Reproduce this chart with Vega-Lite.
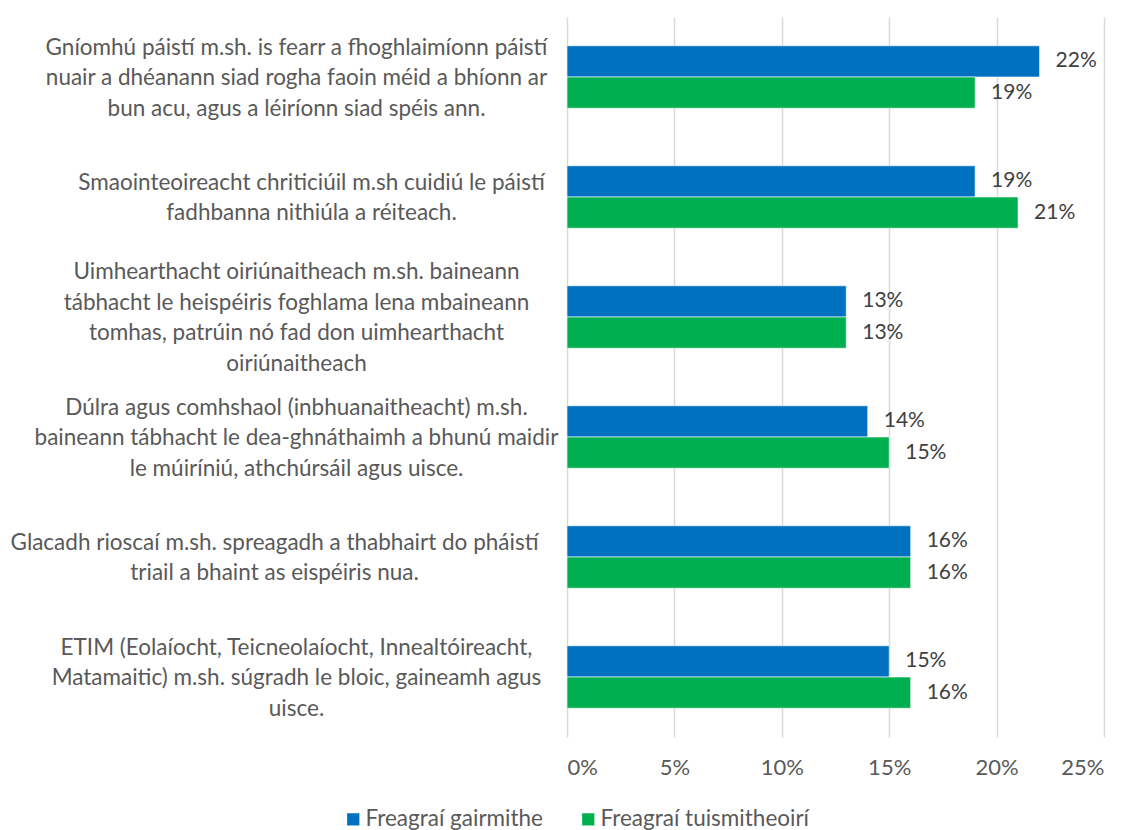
{
  "$schema": "https://vega.github.io/schema/vega-lite/v6.json",
  "width": 537,
  "height": 720,
  "autosize": {"type": "none"},
  "padding": {"left": 567, "top": 17, "right": 24, "bottom": 93},
  "background": "white",
  "data": {
    "values": [
      {"cat": "Gníomhú páistí m.sh. is fearr a fhoghlaimíonn páistí|nuair a dhéanann siad rogha faoin méid a bhíonn ar|bun acu, agus a léiríonn siad spéis ann.", "series": "Freagraí gairmithe", "value": 0.22},
      {"cat": "Gníomhú páistí m.sh. is fearr a fhoghlaimíonn páistí|nuair a dhéanann siad rogha faoin méid a bhíonn ar|bun acu, agus a léiríonn siad spéis ann.", "series": "Freagraí tuismitheoirí", "value": 0.19},
      {"cat": "Smaointeoireacht chriticiúil m.sh cuidiú le páistí|fadhbanna nithiúla a réiteach.", "series": "Freagraí gairmithe", "value": 0.19},
      {"cat": "Smaointeoireacht chriticiúil m.sh cuidiú le páistí|fadhbanna nithiúla a réiteach.", "series": "Freagraí tuismitheoirí", "value": 0.21},
      {"cat": "Uimhearthacht oiriúnaitheach m.sh. baineann|tábhacht le heispéiris foghlama lena mbaineann|tomhas, patrúin nó fad don uimhearthacht|oiriúnaitheach", "series": "Freagraí gairmithe", "value": 0.13},
      {"cat": "Uimhearthacht oiriúnaitheach m.sh. baineann|tábhacht le heispéiris foghlama lena mbaineann|tomhas, patrúin nó fad don uimhearthacht|oiriúnaitheach", "series": "Freagraí tuismitheoirí", "value": 0.13},
      {"cat": "Dúlra agus comhshaol (inbhuanaitheacht) m.sh.|baineann tábhacht le dea-ghnáthaimh a bhunú maidir|le múiríniú, athchúrsáil agus uisce.", "series": "Freagraí gairmithe", "value": 0.14},
      {"cat": "Dúlra agus comhshaol (inbhuanaitheacht) m.sh.|baineann tábhacht le dea-ghnáthaimh a bhunú maidir|le múiríniú, athchúrsáil agus uisce.", "series": "Freagraí tuismitheoirí", "value": 0.15},
      {"cat": "Glacadh rioscaí m.sh. spreagadh a thabhairt do pháistí|triail a bhaint as eispéiris nua.", "series": "Freagraí gairmithe", "value": 0.16},
      {"cat": "Glacadh rioscaí m.sh. spreagadh a thabhairt do pháistí|triail a bhaint as eispéiris nua.", "series": "Freagraí tuismitheoirí", "value": 0.16},
      {"cat": "ETIM (Eolaíocht, Teicneolaíocht, Innealtóireacht,|Matamaitic) m.sh. súgradh le bloic, gaineamh agus|uisce.", "series": "Freagraí gairmithe", "value": 0.15},
      {"cat": "ETIM (Eolaíocht, Teicneolaíocht, Innealtóireacht,|Matamaitic) m.sh. súgradh le bloic, gaineamh agus|uisce.", "series": "Freagraí tuismitheoirí", "value": 0.16}
    ]
  },
  "encoding": {
    "y": {
      "field": "cat",
      "type": "nominal",
      "sort": null,
      "scale": {"paddingInner": 0.48, "paddingOuter": 0.24},
      "axis": {
        "title": null,
        "ticks": false,
        "domain": false,
        "grid": false,
        "labelExpr": "split(datum.label, '|')",
        "labelAlign": "center",
        "labelBaseline": "middle",
        "labelPadding": {"expr": "indexof(datum.value, 'Glacadh') == 0 ? 293 : indexof(datum.value, 'Smaoint') == 0 ? 256 : 271"},
        "labelLimit": 0,
        "labelFont": "Lato",
        "labelFontSize": 22.5,
        "labelLineHeight": 30.5,
        "labelColor": "#595959",
        "labelOffset": {"expr": "-(length(split(datum.value, '|')) - 1) * 15.25 + 1"}
      }
    },
    "yOffset": {"field": "series", "type": "nominal", "sort": ["Freagraí gairmithe", "Freagraí tuismitheoirí"], "scale": {"paddingInner": 0}},
    "x": {
      "field": "value",
      "type": "quantitative",
      "scale": {"domain": [0, 0.25], "nice": false},
      "axis": {
        "title": null,
        "format": ".0%",
        "values": [0, 0.05, 0.1, 0.15, 0.2, 0.25],
        "ticks": false,
        "domain": false,
        "grid": true,
        "gridColor": "#d9d9d9",
        "gridWidth": 1.5,
        "labelPadding": 20,
        "labelFont": "Lato",
        "labelFontSize": 22,
        "labelColor": "#595959"
      }
    }
  },
  "layer": [
    {
      "mark": {"type": "bar", "stroke": "#ffffff", "strokeWidth": 1, "strokeOpacity": 0.6},
      "encoding": {
        "color": {
          "field": "series",
          "type": "nominal",
          "sort": ["Freagraí gairmithe", "Freagraí tuismitheoirí"],
          "scale": {"domain": ["Freagraí gairmithe", "Freagraí tuismitheoirí"], "range": ["#0070C0", "#00B050"]},
          "legend": {
            "title": null,
            "orient": "none",
            "direction": "horizontal",
            "legendX": -225,
            "legendY": 791,
            "symbolType": "square",
            "symbolSize": 150,
            "symbolStrokeWidth": 0,
            "labelFont": "Lato",
            "labelFontSize": 22.5,
            "labelColor": "#595959",
            "columnPadding": 34,
            "labelOffset": 1,
            "labelLimit": 0
          }
        }
      }
    },
    {
      "mark": {"type": "text", "align": "left", "baseline": "middle", "dx": 16, "font": "Lato", "fontSize": 21, "color": "#404040"},
      "encoding": {
        "text": {"field": "value", "type": "quantitative", "format": ".0%"}
      }
    }
  ],
  "config": {"view": {"stroke": null}}
}
